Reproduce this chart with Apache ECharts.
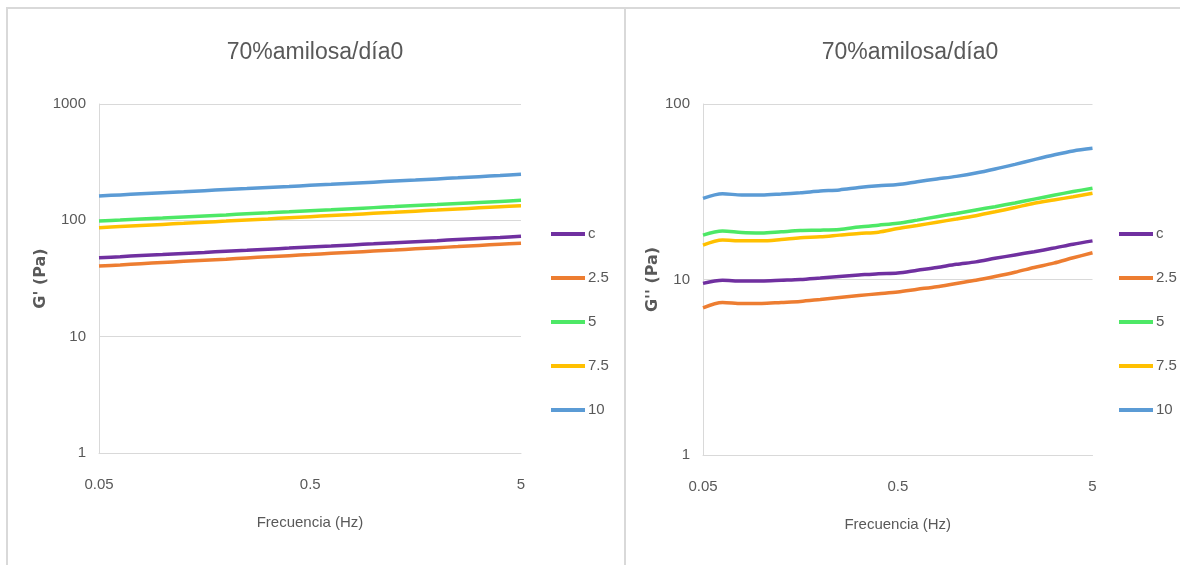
<!DOCTYPE html>
<html>
<head>
<meta charset="utf-8">
<script src="https://cdn.jsdelivr.net/npm/echarts@6/dist/echarts.min.js"></script>
<style>
  html, body { margin: 0; padding: 0; background: #ffffff; }
  #wrap { position: relative; width: 1180px; height: 565px; overflow: hidden; background: #ffffff; }
  .frame { position: absolute; left: 6px; top: 7px; width: 1174px; height: 558px;
           border-top: 2px solid #d9d9d9; border-left: 2px solid #d9d9d9; box-sizing: border-box; }
  .sep { position: absolute; left: 624px; top: 7px; width: 2px; height: 558px; background: #d9d9d9; }
  #chart { position: absolute; left: 0; top: 0; width: 1180px; height: 565px; }
</style>
</head>
<body>
<div id="wrap">
  <div class="frame"></div>
  <div class="sep"></div>
  <div id="chart"></div>
</div>
<script>
// Frequency sweep (Hz)
const frequencies = [0.05, 0.063, 0.079, 0.1, 0.126, 0.158, 0.2, 0.251, 0.316, 0.398,
                     0.5, 0.63, 0.794, 1, 1.26, 1.58, 2, 2.51, 3.16, 3.98, 5];
const seriesNames = ['c', '2.5', '5', '7.5', '10'];
const chartTitle = '70%amilosa/día0';

// Storage modulus G' (Pa)
const gPrimeC   = [47.7, 48.7, 49.8, 50.8, 51.9, 53, 54.2, 55.3, 56.5, 57.7, 59, 60.2, 61.5, 62.8, 64.2, 65.5, 66.9, 68.4, 69.8, 71.3, 73];
const gPrime25  = [40.5, 41.4, 42.4, 43.4, 44.4, 45.4, 46.4, 47.5, 48.6, 49.7, 50.8, 52, 53.2, 54.4, 55.6, 56.9, 58.2, 59.5, 60.9, 62.2, 63.5];
const gPrime5   = [98.6, 100.6, 102.7, 104.8, 107, 109.2, 111.4, 113.7, 116, 118.4, 121, 123.4, 126, 128.6, 131.2, 134, 136.8, 139.6, 142.5, 145.5, 148.6];
const gPrime75  = [86.5, 88.4, 90.3, 92.3, 94.3, 96.4, 98.5, 100.7, 102.9, 105.2, 107.5, 109.9, 112.3, 114.8, 117.3, 119.9, 122.5, 125.2, 128, 130.8, 133.7];
const gPrime10  = [162, 165.5, 169, 172.5, 176, 180, 184, 187.5, 191.5, 195.5, 200, 204, 208.5, 213, 217.5, 222, 227, 232, 237.5, 243, 249];

// Loss modulus G'' (Pa)
const gDoubleC  = [9.5, 9.9, 9.8, 9.8, 9.9, 10.0, 10.2, 10.4, 10.6, 10.8, 10.9, 11.3, 11.7, 12.2, 12.6, 13.2, 13.8, 14.4, 15.1, 15.9, 16.6];
const gDouble25 = [6.9, 7.4, 7.3, 7.3, 7.4, 7.5, 7.7, 7.9, 8.1, 8.3, 8.5, 8.8, 9.1, 9.5, 9.9, 10.4, 11.0, 11.7, 12.4, 13.3, 14.2];
const gDouble5  = [17.9, 18.9, 18.5, 18.4, 18.7, 19.0, 19.1, 19.3, 19.9, 20.4, 20.9, 21.8, 22.8, 23.8, 24.9, 26.0, 27.3, 28.7, 30.2, 31.7, 33.1];
const gDouble75 = [15.7, 16.8, 16.6, 16.6, 16.9, 17.3, 17.5, 17.9, 18.3, 18.6, 19.5, 20.3, 21.2, 22.1, 23.1, 24.3, 25.7, 27.2, 28.4, 29.6, 31.0];
const gDouble10 = [29.0, 30.8, 30.3, 30.3, 30.7, 31.2, 31.9, 32.4, 33.4, 34.2, 34.8, 36.1, 37.4, 38.7, 40.4, 42.6, 45.3, 48.2, 51.2, 54.0, 55.9];

const colors = ['#7030A0', '#ED7D31', '#4DE866', '#FFC000', '#5B9BD5'];
const labelFont = "'Liberation Sans', Arial, sans-serif";
const textGray = '#595959';
const lineGray = '#d9d9d9';

function pairs(values) {
  return frequencies.map((f, i) => [f, values[i]]);
}

// Decade ticks are counted from 0.05, so one significant digit is enough.
function fmtX(v) { return String(parseFloat(Number(v).toPrecision(1))); }
function fmtY(v) { return String(Math.round(v)); }

function xAxisFor(gridIndex) {
  return {
    gridIndex: gridIndex,
    type: 'log',
    logBase: 10,
    min: 0.05,
    max: 5,
    interval: 1,
    axisLine: { show: true, lineStyle: { color: lineGray, width: 1 } },
    axisTick: { show: false },
    splitLine: { show: false },
    axisLabel: { color: textGray, fontSize: 15, fontFamily: labelFont, margin: 24, formatter: fmtX },
    name: 'Frecuencia (Hz)',
    nameLocation: 'middle',
    nameGap: 62,
    nameTextStyle: { color: textGray, fontSize: 15, fontFamily: labelFont }
  };
}

function yAxisFor(gridIndex, maxVal, title, gap) {
  return {
    gridIndex: gridIndex,
    type: 'log',
    logBase: 10,
    min: 1,
    max: maxVal,
    axisLine: { show: true, lineStyle: { color: lineGray, width: 1 } },
    axisTick: { show: false },
    splitLine: { show: true, lineStyle: { color: lineGray, width: 1 } },
    axisLabel: { color: textGray, fontSize: 15, fontFamily: labelFont, margin: 13, formatter: fmtY },
    name: title,
    nameLocation: 'middle',
    nameRotate: 90,
    nameGap: gap,
    nameTextStyle: { color: textGray, fontSize: 16, fontWeight: 'bold', fontFamily: "'DejaVu Sans', Verdana, sans-serif" }
  };
}

function lineSeries(name, values, idx, axisIdx) {
  return {
    name: name,
    type: 'line',
    xAxisIndex: axisIdx,
    yAxisIndex: axisIdx,
    data: pairs(values),
    smooth: 0.3,
    symbol: 'none',
    lineStyle: { width: 3.5, color: colors[idx] },
    itemStyle: { color: colors[idx] },
    z: 3
  };
}

function legendFor(left) {
  return {
    orient: 'vertical',
    left: left,
    top: 223,
    padding: 0,
    icon: 'rect',
    itemWidth: 34,
    itemHeight: 4,
    itemGap: 22,
    data: seriesNames,
    textStyle: { color: textGray, fontSize: 15, fontFamily: labelFont, lineHeight: 20, padding: [2, 0, 0, -2] }
  };
}

const leftSets = [gPrimeC, gPrime25, gPrime5, gPrime75, gPrime10];
const rightSets = [gDoubleC, gDouble25, gDouble5, gDouble75, gDouble10];

const series = [];
seriesNames.forEach((n, i) => series.push(lineSeries(n, leftSets[i], i, 0)));
seriesNames.forEach((n, i) => series.push(lineSeries(n, rightSets[i], i, 1)));

const chart = echarts.init(document.getElementById('chart'), null, { renderer: 'canvas' });
chart.setOption({
  animation: false,
  backgroundColor: 'transparent',
  color: colors,
  title: [
    { text: chartTitle, left: 310, top: 36, textAlign: 'center',
      textStyle: { color: textGray, fontSize: 23, fontWeight: 'normal', fontFamily: labelFont } },
    { text: chartTitle, left: 905, top: 36, textAlign: 'center',
      textStyle: { color: textGray, fontSize: 23, fontWeight: 'normal', fontFamily: labelFont } }
  ],
  legend: [legendFor(551), legendFor(1119)],
  grid: [
    { left: 99, top: 104, width: 422, height: 349, containLabel: false },
    { left: 703, top: 104, width: 389.5, height: 351, containLabel: false }
  ],
  xAxis: [xAxisFor(0), xAxisFor(1)],
  yAxis: [yAxisFor(0, 1000, "G' (Pa)", 40), yAxisFor(1, 100, "G'' (Pa)", 33)],
  series: series
});
</script>
</body>
</html>
